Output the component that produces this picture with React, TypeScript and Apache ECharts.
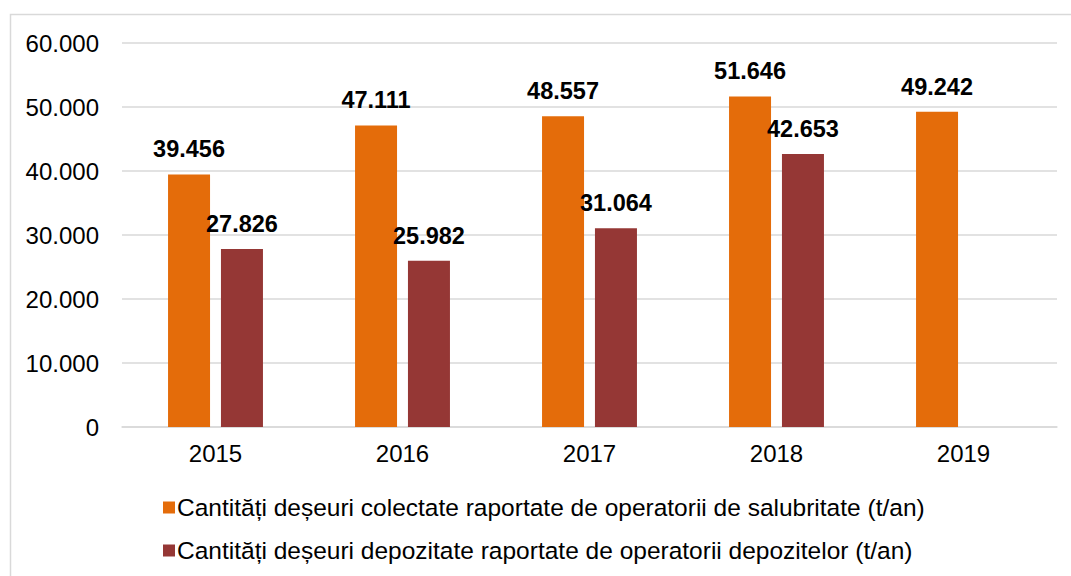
import React, { useEffect, useRef } from "react";
import * as echarts from "echarts";

const categories = ["2015", "2016", "2017", "2018", "2019"];
const collected = [39456, 47111, 48557, 51646, 49242];
const deposited: (number | null)[] = [27826, 25982, 31064, 42653, null];
const seriesNames = [
  "Cantități deșeuri colectate raportate de operatorii de salubritate (t/an)",
  "Cantități deșeuri depozitate raportate de operatorii depozitelor (t/an)",
];

const fmt = (v: number) => String(Math.round(v)).replace(/\B(?=(\d{3})+(?!\d))/g, ".");

export default function App() {
  const ref = useRef<HTMLDivElement>(null);
  useEffect(() => {
    if (!ref.current) return;
    const chart = echarts.init(ref.current, null, { renderer: "svg" });
    const font = "'Liberation Sans', Arial, sans-serif";
    const labelCfg = {
      show: true,
      position: "top" as const,
      distance: 13,
      fontFamily: font,
      fontSize: 23.5,
      fontWeight: "bold" as const,
      color: "#000",
      formatter: (p: any) => (p.value == null ? "" : fmt(p.value)),
    };
    chart.setOption({
      animation: false,
      backgroundColor: "#fff",
      textStyle: { fontFamily: font },
      graphic: [
        {
          type: "polyline",
          shape: { points: [[10.5, 600], [10.5, 14.5], [1100, 14.5]] },
          style: { stroke: "#d9d9d9", lineWidth: 1.5, fill: "none" },
          silent: true,
        },
      ],
      grid: { left: 122, right: 14, top: 43, bottom: 149 },
      legend: {
        orient: "vertical",
        left: 158,
        top: 490,
        itemWidth: 12,
        itemHeight: 12,
        itemGap: 18,
        icon: "rect",
        textStyle: { fontFamily: font, fontSize: 24.5, color: "#000", padding: [0, 0, 0, -3] },
        data: seriesNames,
      },
      xAxis: {
        type: "category",
        data: categories,
        axisLine: { lineStyle: { color: "#d9d9d9", width: 1.5 } },
        axisTick: { show: false },
        axisLabel: { fontFamily: font, fontSize: 24, color: "#000", margin: 14 },
      },
      yAxis: {
        type: "value",
        min: 0,
        max: 60000,
        interval: 10000,
        axisLine: { show: false },
        axisTick: { show: false },
        splitLine: { lineStyle: { color: "#d9d9d9", width: 1.5 } },
        axisLabel: {
          fontFamily: font,
          fontSize: 24,
          color: "#000",
          margin: 23,
          formatter: (v: number) => fmt(v),
        },
      },
      series: [
        {
          name: seriesNames[0],
          type: "bar",
          data: collected,
          barWidth: 42,
          barGap: "26%",
          itemStyle: { color: "#E46C0A" },
          label: labelCfg,
        },
        {
          name: seriesNames[1],
          type: "bar",
          data: deposited,
          barWidth: 42,
          itemStyle: { color: "#953735" },
          label: labelCfg,
        },
      ],
    });
    return () => chart.dispose();
  }, []);
  return (
    <div
      ref={ref}
      style={{ position: "fixed", left: 0, top: 0, width: 1071, height: 576 }}
    />
  );
}
